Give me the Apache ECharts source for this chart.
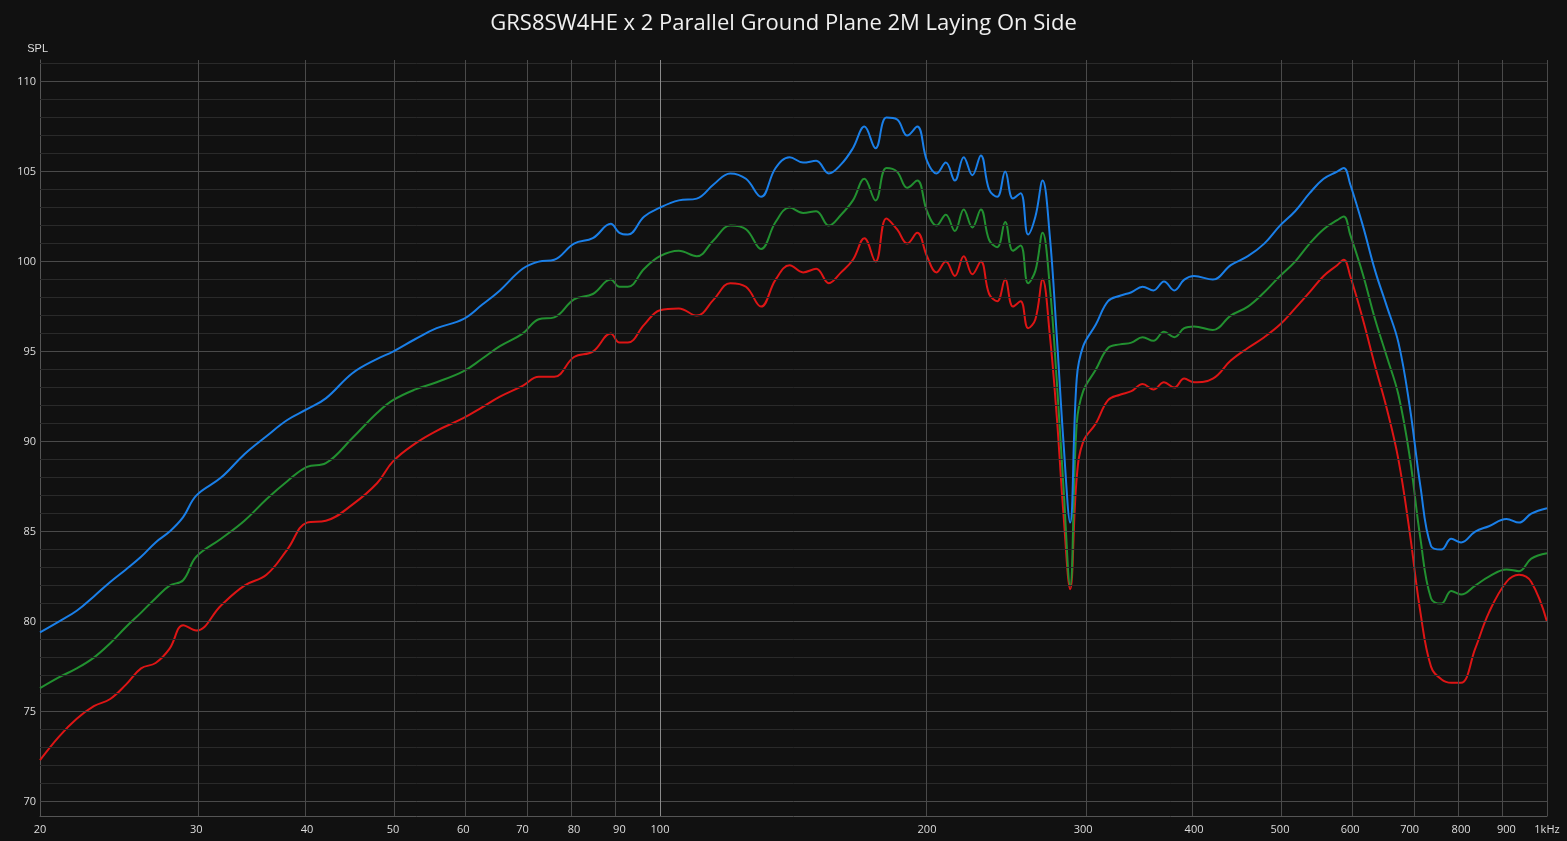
<!DOCTYPE html>
<html><head><meta charset="utf-8">
<script src="https://cdn.jsdelivr.net/npm/echarts@6/dist/echarts.min.js"></script>
<style>html,body{margin:0;padding:0;background:#111;}#c{width:1567px;height:841px;}</style>
</head><body><div id="c"></div>
<script>
const freqs=[20,21,22,23,24,25,26,27,28,29,30,32,34,36,38,40,42,45,48,50,53,56,60,63,66,70,73,76,80,84,88,90,92,96,100,105,110,115,120,125,130,135,140,145,150,155,160,165,170,175,180,185,190,195,200,205,210,215,220,225,230,235,240,245,250,255,260,265,270,275,280,285,290,295,300,310,320,330,340,350,360,370,380,390,400,420,440,460,480,500,520,540,560,580,590,600,620,640,660,680,700,720,740,760,780,800,830,860,900,930,960,1000];
const blue=[79.4,80.0,80.6,81.4,82.2,82.9,83.6,84.4,85.0,85.8,87.0,88.0,89.3,90.3,91.2,91.8,92.4,93.8,94.6,95.0,95.7,96.3,96.8,97.6,98.4,99.6,100.0,100.1,101.0,101.3,102.1,101.6,101.5,102.5,103.0,103.4,103.5,104.3,104.9,104.6,103.6,105.2,105.8,105.5,105.6,104.9,105.4,106.3,107.5,106.3,108.0,107.9,107.0,107.5,105.6,104.9,105.5,104.5,105.8,104.8,105.9,104.0,103.6,105.0,103.5,103.8,101.5,102.5,104.5,101.5,96,90,85.5,93.5,95.3,96.5,97.8,98.1,98.3,98.6,98.4,98.9,98.4,99.0,99.2,99.0,99.8,100.3,101.0,102.0,102.8,103.8,104.6,105.0,105.2,104.3,102.0,99.5,97.5,95.5,92.0,87.5,84.2,84.0,84.6,84.4,85.0,85.3,85.7,85.5,86.0,86.3];
const green=[76.3,76.9,77.4,78.0,78.8,79.7,80.5,81.3,82.0,82.3,83.6,84.6,85.6,86.8,87.8,88.6,88.8,90.2,91.6,92.3,92.9,93.3,93.9,94.6,95.3,96.0,96.8,96.9,97.9,98.2,99.0,98.6,98.6,99.6,100.3,100.6,100.3,101.2,102.0,101.8,100.7,102.2,103.0,102.7,102.8,102.0,102.6,103.4,104.6,103.4,105.2,105.0,104.1,104.5,102.8,102.0,102.6,101.7,102.9,101.9,102.9,101.2,100.8,102.2,100.6,100.9,98.8,99.5,101.6,98.7,93.5,87.5,82.0,91.0,92.8,94.0,95.2,95.4,95.5,95.8,95.6,96.1,95.8,96.3,96.4,96.2,97.0,97.5,98.3,99.2,100.0,101.0,101.8,102.3,102.5,101.5,99.3,96.8,94.7,92.6,89.2,84.6,81.3,81.0,81.7,81.5,82.0,82.5,82.9,82.8,83.5,83.8];
const red=[72.3,73.6,74.6,75.3,75.7,76.5,77.4,77.7,78.5,79.8,79.5,80.9,82.0,82.6,84.0,85.5,85.6,86.5,87.7,88.9,89.9,90.6,91.3,91.9,92.5,93.1,93.6,93.6,94.7,95.0,96.0,95.5,95.5,96.5,97.3,97.4,97.0,97.9,98.8,98.6,97.5,99.0,99.8,99.4,99.6,98.8,99.4,100.1,101.3,100.0,102.4,101.8,101.0,101.6,100.3,99.4,100.0,99.2,100.3,99.3,100.0,98.2,97.8,99.0,97.5,97.8,96.3,96.8,99.0,96.0,91.5,86.0,81.8,88.0,90.0,91.0,92.3,92.6,92.8,93.2,92.9,93.3,93.0,93.5,93.3,93.5,94.5,95.2,95.8,96.5,97.4,98.3,99.2,99.8,100.1,99.2,96.8,94.2,91.8,89.0,85.0,80.5,77.5,76.8,76.6,76.6,78.5,80.5,82.2,82.6,82.2,80.0];
const xTicks=[20,30,40,50,60,70,80,90,100,200,300,400,500,600,700,800,900,1000];
const xTickLabels=['20','30','40','50','60','70','80','90','100','200','300','400','500','600','700','800','900','1kHz'];
const yTicks=[70,75,80,85,90,95,100,105,110];

const L=Math.log10;
const toData=v=>freqs.map((f,i)=>[L(f),v[i]]);
const hLines=[];
for(let y=70;y<=111;y++){hLines.push({yAxis:y,lineStyle:{color:y%5===0?'#4a4a4a':'#2a2a2a',width:1,type:'solid'}});}
const vLines=xTicks.map(f=>({xAxis:L(f),lineStyle:{color:f===100?'#8a8a8a':'#4a4a4a',width:1,type:'solid'}}));
const chart=echarts.init(document.getElementById('c'));
chart.setOption({
  backgroundColor:'#111111',
  animation:false,
  title:{text:'GRS8SW4HE x 2 Parallel Ground Plane 2M Laying On Side',left:'center',top:8,textStyle:{color:'#f0f0f0',fontSize:22,fontWeight:'normal',fontFamily:'Open Sans'}},
  grid:{left:40,right:20,top:60,bottom:25},
  xAxis:{type:'value',min:L(20),max:L(1000),
    axisLine:{show:true,onZero:false,lineStyle:{color:'#555'}},axisTick:{show:false},splitLine:{show:false},
    axisLabel:{customValues:xTicks.map(L),color:'#ddd',fontSize:11,fontFamily:'Open Sans',margin:8,
      formatter:v=>{let i=xTicks.findIndex(f=>Math.abs(L(f)-v)<1e-6);return i>=0?xTickLabels[i]:'';}}},
  yAxis:{type:'value',min:69.2,max:111.2,name:'SPL',nameLocation:'end',nameGap:6,
    nameTextStyle:{color:'#ddd',fontSize:11,align:'right',padding:[0,-8,0,0]},
    axisLine:{show:true,lineStyle:{color:'#555'}},axisTick:{show:false},splitLine:{show:false},
    axisLabel:{customValues:yTicks,color:'#ddd',fontSize:11,fontFamily:'Open Sans',margin:4}},
  series:[
    {type:'line',data:[],silent:true,markLine:{symbol:'none',silent:true,label:{show:false},animation:false,data:hLines.concat(vLines)}},
    {type:'line',name:'blue',data:toData(blue),showSymbol:false,smooth:0.4,lineStyle:{color:'#1a7fe8',width:2},z:5},
    {type:'line',name:'green',data:toData(green),showSymbol:false,smooth:0.4,lineStyle:{color:'#229030',width:2},z:4},
    {type:'line',name:'red',data:toData(red),showSymbol:false,smooth:0.4,lineStyle:{color:'#dd1515',width:2},z:3}
  ]
});
</script></body></html>
